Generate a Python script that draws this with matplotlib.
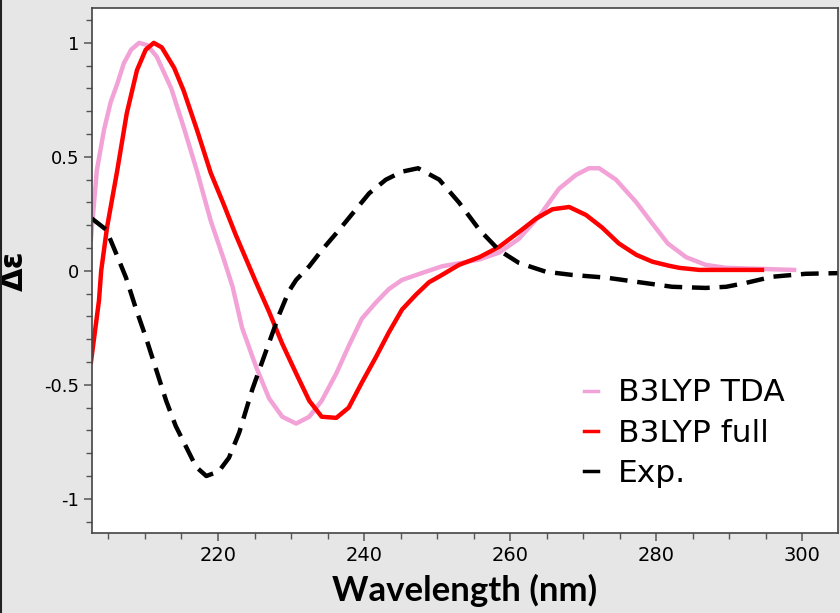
import matplotlib
matplotlib.use('Agg')
import matplotlib.pyplot as plt
from matplotlib.lines import Line2D
from matplotlib.ticker import MultipleLocator, FuncFormatter

# B3LYP TDA (pink)
tda_nm = [202.6, 203.4, 204.4, 205.3, 206.2, 207.1, 208.1, 209.2, 210.3, 211.6,
          213.6, 215.3, 217.1, 219.0, 220.8, 222.0, 223.3, 225.2, 227.0, 228.8,
          230.7, 232.5, 234.2, 236.2, 237.9, 239.7, 241.6, 243.4, 245.2, 247.9,
          250.7, 253.4, 255.8, 258.5, 261.2, 264.0, 266.7, 269.0, 270.8, 272.2,
          274.5, 277.3, 279.3, 281.6, 284.1, 286.8, 289.6, 298.9]
tda_de = [0.14, 0.44, 0.62, 0.74, 0.82, 0.91, 0.97, 1.00, 0.99, 0.94,
          0.80, 0.63, 0.44, 0.22, 0.05, -0.07, -0.25, -0.42, -0.56, -0.64,
          -0.67, -0.64, -0.57, -0.45, -0.33, -0.21, -0.14, -0.08, -0.04, -0.01,
          0.02, 0.035, 0.05, 0.08, 0.14, 0.24, 0.36, 0.42, 0.45, 0.45,
          0.40, 0.30, 0.215, 0.12, 0.06, 0.026, 0.013, 0.004]

# B3LYP full (red)
full_nm = [202.6, 203.7, 204.0, 204.8, 206.2, 207.5, 208.9, 210.1, 211.2, 212.3,
           214.0, 215.3, 217.1, 219.0, 220.8, 222.4, 224.0, 225.2, 227.0, 228.8,
           230.7, 232.5, 234.2, 236.2, 237.9, 239.7, 241.6, 243.4, 245.2, 247.1,
           248.9, 250.3, 253.0, 255.8, 258.5, 261.2, 263.6, 265.8, 268.1, 270.4,
           272.6, 274.9, 277.3, 279.5, 281.8, 283.2, 285.9, 294.5]
full_de = [-0.40, -0.13, 0.0, 0.19, 0.44, 0.69, 0.88, 0.97, 1.00, 0.98,
           0.89, 0.79, 0.62, 0.43, 0.29, 0.16, 0.04, -0.05, -0.18, -0.32,
           -0.45, -0.57, -0.64, -0.645, -0.60, -0.49, -0.38, -0.27, -0.17, -0.105,
           -0.05, -0.025, 0.026, 0.06, 0.105, 0.17, 0.23, 0.27, 0.28, 0.245,
           0.19, 0.12, 0.07, 0.04, 0.022, 0.013, 0.004, 0.004]

# Experimental (black dashed)
exp_nm = [202.7, 204.7, 206.0, 207.4, 208.2, 208.8, 210.1, 211.5, 212.9, 214.2,
          215.6, 217.0, 218.4, 220.1, 221.5, 222.9, 224.7, 226.6, 228.4, 229.7,
          230.7, 232.5, 234.2, 236.6, 238.9, 240.7, 243.0, 245.2, 247.4, 250.3,
          253.0, 255.8, 258.5, 261.2, 264.9, 268.5, 273.2, 277.7, 282.2, 286.8,
          289.6, 292.3, 295.9, 300.5, 305.1]
exp_de = [0.23, 0.18, 0.08, -0.03, -0.11, -0.17, -0.29, -0.43, -0.57, -0.68,
          -0.77, -0.86, -0.90, -0.88, -0.82, -0.71, -0.52, -0.35, -0.19, -0.09,
          -0.04, 0.02, 0.09, 0.18, 0.27, 0.34, 0.40, 0.435, 0.45, 0.40,
          0.30, 0.18, 0.09, 0.035, -0.004, -0.018, -0.03, -0.05, -0.07, -0.075,
          -0.07, -0.053, -0.026, -0.013, -0.01]

labels = ['B3LYP TDA', 'B3LYP full', 'Exp.']
colors = ['#f2a2d6', '#ff0000', '#000000']

plt.rcParams['axes.unicode_minus'] = False

fig = plt.figure(figsize=(8.4, 6.13), dpi=100, facecolor='#e6e6e6')
ax = fig.add_axes([0.1095, 0.1305, 0.888, 0.8565])
ax.set_facecolor('white')

ax.plot(tda_nm, tda_de, color=colors[0], lw=3.2, solid_joinstyle='round')
ax.plot(full_nm, full_de, color=colors[1], lw=3.2, solid_joinstyle='round')
ax.plot(exp_nm, exp_de, color=colors[2], lw=3.2, dashes=(4, 2.2), dash_capstyle='butt')

ax.set_xlim(202.74, 304.9)
ax.set_ylim(-1.15, 1.153)

ax.xaxis.set_major_locator(MultipleLocator(20))
ax.xaxis.set_minor_locator(MultipleLocator(5))
ax.yaxis.set_major_locator(MultipleLocator(0.5))
ax.yaxis.set_minor_locator(MultipleLocator(0.1))
ax.yaxis.set_major_formatter(FuncFormatter(lambda v, p: '%g' % v))

for s in ax.spines.values():
    s.set_color('#444444')
    s.set_linewidth(1.2)
ax.tick_params(which='both', direction='out', colors='#555555', labelcolor='black')
ax.tick_params(which='major', length=6, width=1.1)
ax.tick_params(which='minor', length=4, width=1.0)
ax.tick_params(axis='x', labelsize=14, pad=3)
ax.tick_params(axis='y', labelsize=13, pad=3)

ax.set_xlabel('Wavelength (nm)', fontsize=25, fontweight='bold', family='Lato', labelpad=7)
ax.set_ylabel('Δε', fontsize=22, fontweight='bold', labelpad=11)

handles = [Line2D([], [], color=c, lw=2.5) for c in colors]
ax.legend(handles, labels, loc='center left', bbox_to_anchor=(0.659, 0.19),
          frameon=False, fontsize=22.5, handlelength=0.45, handletextpad=0.65,
          labelspacing=0.36, borderpad=0, borderaxespad=0)

fig.add_artist(Line2D([0.001, 0.001], [0, 1], color='#222222', lw=1.5))

plt.savefig('out.png', dpi=100, facecolor=fig.get_facecolor())
